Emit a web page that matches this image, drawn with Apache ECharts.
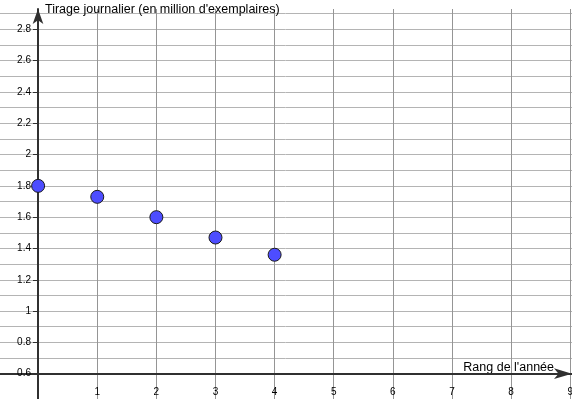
<!DOCTYPE html>
<html>
<head>
<meta charset="utf-8">
<script src="https://cdn.jsdelivr.net/npm/echarts@6/dist/echarts.min.js"></script>
<style>
html,body{margin:0;padding:0;background:#fff;}
#chart{width:572px;height:399px;}
</style>
</head>
<body>
<div id="chart"></div>
<script>
// Data
const rangAnnee = [0, 1, 2, 3, 4];
const tirage = [1.80, 1.73, 1.60, 1.47, 1.36];
const xName = "Rang de l'année";
const yName = "Tirage journalier (en million d'exemplaires)";

const FONT = 'Liberation Sans, Arial, sans-serif';
const VGRID = '#959595';
const HGRID = '#b4b4b4';
const AXIS = '#303030';

const chart = echarts.init(document.getElementById('chart'), null, {renderer: 'canvas'});

// hide the two lowest 0.1-lines (0.4 and 0.5), the rest grey
const hLineColors = ['rgba(0,0,0,0)', 'rgba(0,0,0,0)'];
for (let i = 0; i < 40; i++) hLineColors.push(HGRID);

chart.setOption({
  animation: false,
  backgroundColor: '#ffffff',
  grid: {left: -21, right: 0, top: 9, bottom: -6, containLabel: false, outerBoundsMode: 'none'},
  xAxis: {
    type: 'value',
    min: -1, max: 9.03, interval: 1,
    position: 'bottom',
    offset: -31.3,
    name: xName,
    nameLocation: 'end',
    nameGap: -18,
    nameTextStyle: {fontFamily: FONT, fontSize: 12.5, color: '#000', align: 'right', verticalAlign: 'bottom', padding: [0, 0, 0, 0]},
    axisLine: {show: true, onZero: false, lineStyle: {color: AXIS, width: 2},
      symbol: ['none', 'arrow'], symbolSize: [8, 18], symbolOffset: [0, 0]},
    axisTick: {show: false},
    axisLabel: {show: true, margin: 14, fontFamily: FONT, fontSize: 10, color: '#000',
      showMinLabel: false, showMaxLabel: true, hideOverlap: false,
      formatter: v => (v > 0 && Math.abs(v - Math.round(v)) < 1e-6 ? String(Math.round(v)) : '')},
    splitLine: {show: true, showMinLine: true, showMaxLine: false, lineStyle: {color: VGRID, width: 1}}
  },
  yAxis: [{
    type: 'value',
    min: 0.4, max: 2.93, interval: 0.2,
    position: 'left',
    offset: -59,
    name: yName,
    nameLocation: 'end',
    nameGap: -1,
    nameTextStyle: {fontFamily: FONT, fontSize: 12.5, color: '#000', align: 'left', verticalAlign: 'middle', padding: [0, 0, 0, 7]},
    axisLine: {show: true, onZero: false, lineStyle: {color: AXIS, width: 2},
      symbol: ['none', 'arrow'], symbolSize: [8, 15], symbolOffset: [0, 0]},
    axisTick: {show: true, length: 5, lineStyle: {color: AXIS, width: 1}},
    axisLabel: {show: true, margin: 7, fontFamily: FONT, fontSize: 10, color: '#000',
      showMinLabel: false, showMaxLabel: false, hideOverlap: false,
      formatter: v => String(Math.round(v * 10) / 10)},
    splitLine: {show: false}
  }, {
    type: 'value',
    min: 0.4, max: 2.93, interval: 0.1,
    position: 'left',
    axisLine: {show: false},
    axisTick: {show: false},
    axisLabel: {show: false},
    splitLine: {show: true, showMaxLine: false, lineStyle: {color: hLineColors, width: 1}}
  }],
  series: [{
    type: 'scatter',
    yAxisIndex: 0,
    symbol: 'circle',
    symbolSize: 13,
    itemStyle: {color: '#4d4dff', borderColor: '#1a1a1a', borderWidth: 1, opacity: 1},
    data: rangAnnee.map((x, i) => [x, tirage[i]]),
    z: 10
  }]
});
</script>
</body>
</html>
